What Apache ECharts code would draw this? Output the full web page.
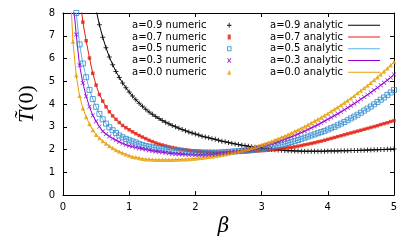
<!DOCTYPE html>
<html><head><meta charset="utf-8">
<script src="https://cdn.jsdelivr.net/npm/echarts@6/dist/echarts.min.js"></script>
<style>html,body{margin:0;padding:0;background:#fff}#c{width:416px;height:242px}</style>
</head><body><div id="c"></div>
<script>
// beta grid (0.05 .. 5.00)
const betas = [
0.05,0.10,0.15,0.20,0.25,0.30,0.35,0.40,0.45,0.50,
0.55,0.60,0.65,0.70,0.75,0.80,0.85,0.90,0.95,1.00,
1.05,1.10,1.15,1.20,1.25,1.30,1.35,1.40,1.45,1.50,
1.55,1.60,1.65,1.70,1.75,1.80,1.85,1.90,1.95,2.00,
2.05,2.10,2.15,2.20,2.25,2.30,2.35,2.40,2.45,2.50,
2.55,2.60,2.65,2.70,2.75,2.80,2.85,2.90,2.95,3.00,
3.05,3.10,3.15,3.20,3.25,3.30,3.35,3.40,3.45,3.50,
3.55,3.60,3.65,3.70,3.75,3.80,3.85,3.90,3.95,4.00,
4.05,4.10,4.15,4.20,4.25,4.30,4.35,4.40,4.45,4.50,
4.55,4.60,4.65,4.70,4.75,4.80,4.85,4.90,4.95,5.00];

const a09 = [
null,null,null,null,null,null,null,null,8.93,8.13,
7.48,6.93,6.47,6.07,5.73,5.43,5.17,4.93,4.72,4.53,
4.35,4.19,4.04,3.90,3.77,3.65,3.55,3.45,3.36,3.28,
3.20,3.13,3.06,3.00,2.94,2.88,2.83,2.77,2.73,2.68,
2.64,2.59,2.55,2.52,2.48,2.45,2.41,2.37,2.34,2.31,
2.28,2.25,2.22,2.19,2.17,2.15,2.12,2.10,2.08,2.06,
2.04,2.02,2.00,1.99,1.98,1.97,1.96,1.95,1.95,1.94,
1.94,1.93,1.93,1.93,1.93,1.93,1.93,1.93,1.93,1.94,
1.94,1.94,1.94,1.95,1.95,1.95,1.96,1.96,1.96,1.97,
1.97,1.98,1.98,1.99,1.99,2.00,2.00,2.01,2.01,2.02];

const a07 = [
null,null,null,null,8.90,7.60,6.78,6.02,5.35,4.83,
4.42,4.13,3.88,3.66,3.48,3.33,3.19,3.06,2.96,2.87,
2.78,2.70,2.62,2.55,2.48,2.41,2.35,2.29,2.24,2.20,
2.16,2.12,2.09,2.06,2.03,2.01,1.99,1.97,1.95,1.94,
1.92,1.91,1.90,1.89,1.89,1.88,1.88,1.88,1.88,1.88,
1.88,1.89,1.89,1.90,1.90,1.91,1.92,1.93,1.94,1.95,
1.96,1.97,1.99,2.00,2.02,2.04,2.06,2.08,2.10,2.12,
2.15,2.18,2.21,2.24,2.27,2.30,2.34,2.37,2.41,2.45,
2.49,2.53,2.57,2.61,2.65,2.69,2.73,2.77,2.81,2.85,
2.89,2.93,2.97,3.01,3.05,3.10,3.14,3.18,3.23,3.27];

const a05 = [
null,null,10.3,8.00,6.62,5.78,5.18,4.62,4.22,3.88,
3.57,3.33,3.14,2.98,2.85,2.73,2.62,2.54,2.47,2.41,
2.36,2.31,2.25,2.20,2.16,2.13,2.10,2.08,2.06,2.04,
2.02,2.00,1.98,1.96,1.94,1.93,1.91,1.90,1.89,1.88,
1.88,1.87,1.87,1.87,1.87,1.87,1.87,1.88,1.89,1.90,
1.91,1.92,1.93,1.94,1.95,1.96,1.98,2.00,2.02,2.04,
2.06,2.09,2.12,2.15,2.18,2.21,2.25,2.29,2.33,2.37,
2.42,2.47,2.52,2.57,2.62,2.67,2.72,2.77,2.82,2.88,
2.94,3.00,3.07,3.14,3.21,3.29,3.37,3.45,3.53,3.62,
3.71,3.80,3.89,3.99,4.09,4.19,4.29,4.40,4.51,4.62];

const a03 = [
null,null,8.60,7.05,5.70,4.93,4.34,3.88,3.50,3.24,
3.01,2.80,2.68,2.58,2.49,2.41,2.34,2.27,2.21,2.17,
2.13,2.09,2.06,2.03,2.00,1.97,1.94,1.92,1.90,1.88,
1.86,1.84,1.82,1.81,1.80,1.79,1.78,1.77,1.77,1.76,
1.76,1.76,1.76,1.77,1.78,1.79,1.80,1.82,1.84,1.86,
1.88,1.90,1.92,1.95,1.98,2.01,2.04,2.07,2.10,2.14,
2.18,2.21,2.26,2.30,2.35,2.40,2.45,2.51,2.56,2.62,
2.68,2.75,2.81,2.88,2.95,3.02,3.09,3.17,3.25,3.33,
3.41,3.49,3.57,3.66,3.75,3.84,3.93,4.02,4.11,4.21,
4.31,4.41,4.51,4.61,4.72,4.83,4.94,5.05,5.17,5.30];

const a00 = [
null,9.60,6.75,5.26,4.36,3.82,3.43,3.12,2.86,2.65,
2.51,2.38,2.27,2.16,2.07,1.98,1.91,1.85,1.79,1.74,
1.69,1.66,1.63,1.60,1.58,1.57,1.56,1.55,1.55,1.55,
1.55,1.55,1.55,1.56,1.56,1.57,1.58,1.59,1.60,1.61,
1.63,1.64,1.66,1.68,1.70,1.72,1.74,1.77,1.80,1.83,
1.86,1.89,1.93,1.96,2.00,2.04,2.08,2.12,2.16,2.21,
2.26,2.31,2.36,2.42,2.48,2.54,2.60,2.66,2.73,2.80,
2.87,2.94,3.01,3.09,3.17,3.25,3.33,3.41,3.50,3.59,
3.68,3.77,3.86,3.96,4.06,4.16,4.26,4.37,4.48,4.59,
4.70,4.82,4.94,5.06,5.18,5.31,5.44,5.57,5.71,5.85];

const aLabels = ['0.9','0.7','0.5','0.3','0.0'];
const curves = [a09, a07, a05, a03, a00];
const lineColors = ['#000000','#e51e10','#56b4e9','#9400d3','#e69f00'];
const markColors = ['#000000','#e51e10','#2f88cc','#9400d3','#e69f00'];
const xTicks = [0,1,2,3,4,5];
const yTicks = [0,1,2,3,4,5,6,7,8];

const PLUS = 'path://M4,0H6V4H10V6H6V10H4V6H0V4H4Z';
const CROSS = 'path://M0,1.2L1.2,0L5,3.8L8.8,0L10,1.2L6.2,5L10,8.8L8.8,10L5,6.2L1.2,10L0,8.8L3.8,5Z';
const symbols = [PLUS, 'rect', 'rect', CROSS, 'triangle'];
const symSizes = [5, 3.5, 5, 4.5, 4.5];

// legend icons: 35x5 box, marker centred at x=17.7 (invisible anchor points at box ends)
const ANCH = 'M0,2.5L0,2.5M35,2.5L35,2.5';
const legendIcons = [
  'path://' + ANCH + 'M17.2,0.3H18.2V2H19.9V3H18.2V4.7H17.2V3H15.5V2H17.2Z',
  'path://' + ANCH + 'M16.1,1H19.3V4.2H16.1Z',
  'path://' + ANCH + 'M15.5,0.3H20V4.8H15.5ZM16.5,1.3V3.8H19V1.3Z',
  'path://' + ANCH + 'M15.6,0.8L16.3,0.1L17.7,1.6L19.1,0.1L19.8,0.8L18.4,2.3L19.8,3.8L19.1,4.5L17.7,3L16.3,4.5L15.6,3.8L17,2.3Z',
  'path://' + ANCH + 'M17.7,0.4L19.8,4.2H15.6Z'
];
const LINE_ICON = 'path://M0,0H32V1H0Z';

function pts(arr){ const out=[]; arr.forEach((v,i)=>{ if(v!=null) out.push([betas[i], v]); }); return out; }

const FONT = 'DejaVu Sans';
const numericNames = aLabels.map(a=>'a='+a+' numeric');
const analyticNames = aLabels.map(a=>'a='+a+' analytic');

const series = [];
curves.forEach((arr,k)=>{
  const open = k===2;
  series.push({
    name: numericNames[k], type:'scatter', data: pts(arr),
    symbol: symbols[k], symbolSize: symSizes[k], symbolKeepAspect:true,
    itemStyle: open ? {color:'rgba(255,255,255,0)', borderColor: markColors[k], borderWidth:1}
                    : {color: markColors[k]},
    z: 3, clip:true, silent:true
  });
});
curves.forEach((arr,k)=>{
  series.push({
    name: analyticNames[k], type:'line', data: pts(arr), symbol:'none', showSymbol:false,
    lineStyle:{color: lineColors[k], width:1}, itemStyle:{color: lineColors[k]},
    z: 2, clip:true, silent:true, animation:false
  });
});

const axisCommon = {
  type:'value', axisLine:{show:true, onZero:false, lineStyle:{color:'#000', width:1}},
  axisTick:{show:true, inside:true, length:4, lineStyle:{color:'#000', width:1}},
  splitLine:{show:false}
};

const chart = echarts.init(document.getElementById('c'), null, {renderer:'canvas'});
chart.setOption({
  animation:false,
  backgroundColor:'#fff',
  grid:{left:63, right:22, top:13, bottom:45, containLabel:false},
  xAxis:[
    Object.assign({}, axisCommon, {position:'bottom', min:xTicks[0], max:xTicks[xTicks.length-1], interval:1,
      axisLabel:{fontSize:10, color:'#000', margin:7, fontFamily:FONT},
      name:'β', nameLocation:'middle', nameGap:19,
      nameTextStyle:{fontFamily:'DejaVu Serif', fontStyle:'italic', fontSize:20, color:'#000', padding:[0,10,0,0]}}),
    Object.assign({}, axisCommon, {position:'top', min:xTicks[0], max:xTicks[xTicks.length-1], interval:1,
      axisLabel:{show:false}})
  ],
  yAxis:[
    Object.assign({}, axisCommon, {position:'left', min:yTicks[0], max:yTicks[yTicks.length-1], interval:1,
      axisLabel:{fontSize:10, color:'#000', margin:8, fontFamily:FONT},
      name:'{t|T\u0303}{p|(0)}', nameLocation:'middle', nameGap:25,
      nameTextStyle:{color:'#000', rich:{
        t:{fontFamily:'Liberation Serif', fontStyle:'italic', fontSize:22, color:'#000'},
        p:{fontFamily:'Liberation Serif', fontSize:22, color:'#000'}}}}),
    Object.assign({}, axisCommon, {position:'right', min:yTicks[0], max:yTicks[yTicks.length-1], interval:1,
      axisLabel:{show:false}})
  ],
  legend:[
    {data: numericNames.map((n,k)=>({name:n, icon: legendIcons[k], itemStyle:{color: markColors[k], borderWidth:0}})),
     orient:'vertical', align:'right', left:132, top:19.5, padding:0, symbolKeepAspect:false,
     itemWidth:35, itemHeight:5, itemGap:0, selectedMode:false,
     textStyle:{fontSize:10, fontFamily:FONT, color:'#000', lineHeight:11.7}},
    {data: analyticNames.map((n,k)=>({name:n, icon: LINE_ICON, itemStyle:{color: lineColors[k], borderWidth:0}})),
     orient:'vertical', align:'right', left:270, top:19.5, padding:0, symbolKeepAspect:false,
     itemWidth:32, itemHeight:1, itemGap:0, selectedMode:false,
     textStyle:{fontSize:10, fontFamily:FONT, color:'#000', lineHeight:11.7}}
  ],
  series: series
});
</script></body></html>
